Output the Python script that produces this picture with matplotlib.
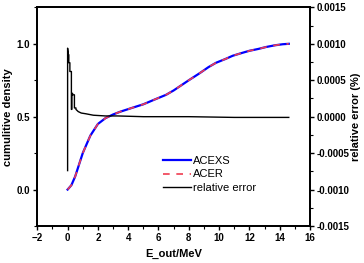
import numpy as np
import matplotlib
matplotlib.use("Agg")
import matplotlib.pyplot as plt
from matplotlib.ticker import FormatStrFormatter, MultipleLocator

plt.rcParams["font.family"] = ["Liberation Sans", "DejaVu Sans"]

# cumulative density (ACEXS and ACER overlap)
e_cdf = [0.0, 0.25, 0.5, 0.75, 1.0, 1.5, 2.0, 2.5, 3.0, 3.5, 4.3, 5.0, 5.8, 6.5,
         7.0, 7.6, 8.0, 8.7, 9.3, 9.8, 10.4, 10.9, 11.5, 12.0, 12.6, 13.1, 13.7,
         14.2, 14.6]
cdf = [0.0, 0.03, 0.09, 0.17, 0.25, 0.37, 0.45, 0.49, 0.515, 0.535, 0.562, 0.585,
       0.62, 0.65, 0.68, 0.722, 0.75, 0.797, 0.84, 0.87, 0.895, 0.918, 0.937,
       0.952, 0.965, 0.978, 0.99, 0.997, 1.0]

# relative error (%)
e_err = [0.0, 0.0, 0.0, 0.05, 0.08, 0.08, 0.15, 0.15, 0.25, 0.25, 0.28, 0.28, 0.33,
         0.33, 0.45, 0.45, 0.55, 0.55, 0.7, 0.9, 1.2, 1.7, 2.5, 3.3, 5.0, 8.0,
         11.0, 14.6]
rel_err = [-0.00074, 0.00094, 0.00094, 0.00085, 0.00085, 0.00074, 0.00074,
           0.00062, 0.00062, 0.0001, 0.0001, 0.00032, 0.00032, 0.0003, 0.0003,
           0.00012, 0.00012, 0.0001, 0.00007, 0.00005, 0.00004, 0.00002, 0.00001,
           0.00001, 0.0, 0.0, -0.00001, -0.00001]

fig = plt.figure(figsize=(3.64, 2.63), dpi=100)
ax = fig.add_axes([0.1025, 0.1407, 0.7491, 0.8313])
ax2 = ax.twinx()

l1, = ax.plot(e_cdf, cdf, color="#0000ff", lw=1.6, label="ACEXS")
l2, = ax.plot(e_cdf, cdf, color="#f03c50", lw=1.2, ls=(0, (4, 4)), label="ACER")
l3, = ax2.plot(e_err, rel_err, color="black", lw=1.0, label="relative error")

ax.set_xlim(-2, 16)
ax.set_ylim(-0.25, 1.25)
ax2.set_ylim(-0.0015, 0.0015)

ax.xaxis.set_major_locator(MultipleLocator(2))
ax.xaxis.set_minor_locator(MultipleLocator(1))
ax.yaxis.set_major_locator(MultipleLocator(0.5))
ax.yaxis.set_minor_locator(MultipleLocator(0.25))
ax.yaxis.set_major_formatter(FormatStrFormatter("%.1f"))
ax2.yaxis.set_major_locator(MultipleLocator(0.0005))
ax2.yaxis.set_minor_locator(MultipleLocator(0.00025))
ax2.yaxis.set_major_formatter(FormatStrFormatter("%.4f"))

for a in (ax, ax2):
    a.tick_params(which="major", direction="out", length=3, width=1,
                  labelsize=7, pad=2)
    a.tick_params(which="minor", direction="out", length=2, width=0.8)
    for lab in a.get_xticklabels() + a.get_yticklabels():
        lab.set_fontweight("bold")
    for s in a.spines.values():
        s.set_linewidth(1.3)

ax.set_xlabel("E_out/MeV", fontsize=8, fontweight="bold", labelpad=4)
ax.set_ylabel("cumulitive density", fontsize=8, fontweight="bold", labelpad=3)
ax2.set_ylabel("relative error (%)", fontsize=8, fontweight="bold", labelpad=1)

ax2.legend([l1, l2, l3], ["ACEXS", "ACER", "relative error"], loc="upper left",
           bbox_to_anchor=(0.44, 0.345), frameon=False, fontsize=8,
           handlelength=2.5, handletextpad=0.2, labelspacing=0.3, borderpad=0)

fig.savefig("out.png", dpi=100)
